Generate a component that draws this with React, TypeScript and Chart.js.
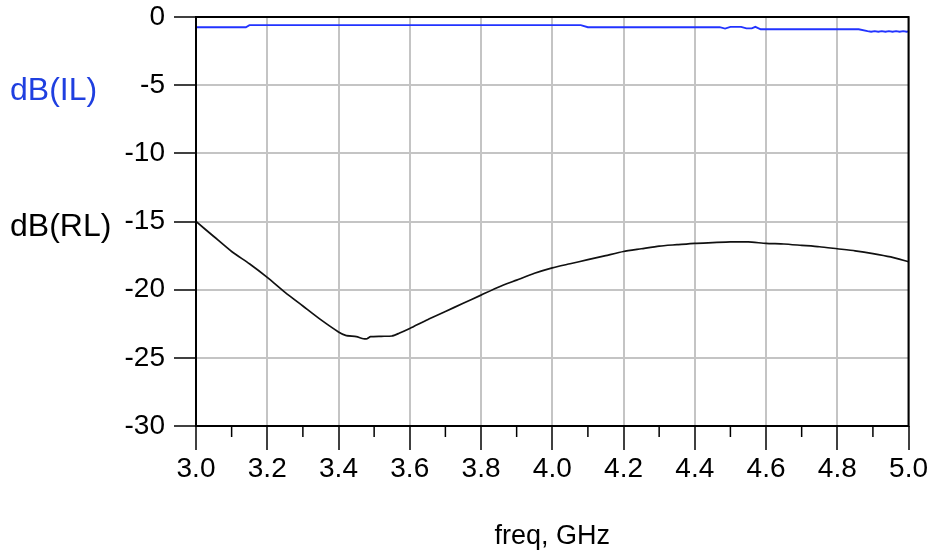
import React, { useEffect, useRef } from "react";
import { Chart, registerables } from "chart.js";

Chart.register(...registerables);

// Return loss dB(RL) vs frequency (GHz)
const rlFreq = [
  3.0, 3.05, 3.1, 3.15, 3.2, 3.25, 3.3, 3.35, 3.4, 3.42, 3.45, 3.47, 3.48, 3.49, 3.52, 3.55, 3.57,
  3.6, 3.65, 3.7, 3.75, 3.8, 3.85, 3.9, 3.95, 4.0, 4.05, 4.1, 4.15, 4.2, 4.25, 4.3,
  4.35, 4.4, 4.45, 4.5, 4.55, 4.6, 4.65, 4.7, 4.75, 4.8, 4.85, 4.9, 4.95, 5.0,
];
const rlValues = [
  -15.0, -16.1, -17.2, -18.1, -19.1, -20.2, -21.2, -22.2, -23.1, -23.35, -23.45, -23.6, -23.6, -23.45, -23.42, -23.4, -23.2,
  -22.85, -22.2, -21.6, -21.0, -20.4, -19.8, -19.3, -18.8, -18.4, -18.1, -17.8, -17.5, -17.2, -17.0, -16.8,
  -16.7, -16.6, -16.55, -16.5, -16.5, -16.6, -16.65, -16.75, -16.85, -17.0, -17.15, -17.35, -17.6, -17.95,
];

// Insertion loss dB(IL) vs frequency (GHz)
const ilFreq = [
  3.0, 3.14, 3.15, 4.08, 4.1, 4.47, 4.485, 4.5, 4.53, 4.545, 4.56, 4.57, 4.585, 4.86, 4.885,
  4.895, 4.905, 4.915, 4.925, 4.935, 4.945, 4.955, 4.965, 4.975, 4.985, 4.995, 5.0,
];
const ilValues = [
  -0.75, -0.75, -0.6, -0.6, -0.75, -0.75, -0.85, -0.72, -0.72, -0.83, -0.83, -0.72, -0.9, -0.9, -1.04,
  -1.08, -1.03, -1.08, -1.03, -1.08, -1.03, -1.08, -1.03, -1.08, -1.03, -1.08, -1.06,
];

const xMin = 3.0;
const xMax = 5.0;
const xStep = 0.2;
const minorXTicks = [3.1, 3.3, 3.5, 3.7, 3.9, 4.1, 4.3, 4.5, 4.7, 4.9];
const yMin = -30;
const yMax = 0;
const yStep = 5;

const xTitle = "freq, GHz";
const ilLabel = "dB(IL)";
const rlLabel = "dB(RL)";

const FONT = "'Liberation Sans', Arial, sans-serif";

const decorPlugin = {
  id: "decor",
  afterDraw(chart: any) {
    const { ctx, chartArea } = chart;
    const xs = chart.scales.x;
    const ys = chart.scales.y;
    ctx.save();
    // box
    ctx.strokeStyle = "#000";
    ctx.lineWidth = 2;
    ctx.strokeRect(chartArea.left, chartArea.top, chartArea.right - chartArea.left, chartArea.bottom - chartArea.top);
    // minor ticks
    ctx.lineWidth = 1.5;
    minorXTicks.forEach((v) => {
      const px = xs.getPixelForValue(v);
      ctx.beginPath();
      ctx.moveTo(px, chartArea.bottom);
      ctx.lineTo(px, chartArea.bottom + 11);
      ctx.stroke();
    });
    // side labels
    ctx.font = `32px ${FONT}`;
    ctx.textBaseline = "middle";
    ctx.textAlign = "left";
    ctx.fillStyle = "#1f3fe0";
    ctx.fillText(ilLabel, 10, ys.getPixelForValue(-5.45));
    ctx.fillStyle = "#000";
    ctx.fillText(rlLabel, 10, ys.getPixelForValue(-15.4));
    ctx.restore();
  },
};

export default function App() {
  const ref = useRef<HTMLCanvasElement | null>(null);
  useEffect(() => {
    if (!ref.current) return;
    const chart = new Chart(ref.current, {
      type: "line",
      data: {
        datasets: [
          {
            label: ilLabel,
            data: ilFreq.map((f, i) => ({ x: f, y: ilValues[i] })),
            borderColor: "#2233ff",
            borderWidth: 1.8,
            pointRadius: 0,
            tension: 0,
          },
          {
            label: rlLabel,
            data: rlFreq.map((f, i) => ({ x: f, y: rlValues[i] })),
            borderColor: "#111",
            borderWidth: 1.7,
            pointRadius: 0,
            tension: 0.2,
          },
        ],
      },
      options: {
        animation: false,
        responsive: false,
        devicePixelRatio: 1,
        layout: { padding: { top: 17, right: 20, left: 0, bottom: 0 } },
        plugins: { legend: { display: false }, tooltip: { enabled: false } },
        scales: {
          x: {
            type: "linear",
            min: xMin,
            max: xMax,
            afterFit: (s: any) => {
              s.height = 128;
            },
            ticks: {
              stepSize: xStep,
              color: "#000",
              font: { family: FONT, size: 28 },
              padding: 2,
              maxRotation: 0,
              callback: (v: any) => Number(v).toFixed(1),
            },
            grid: {
              color: "#c4c4c4",
              lineWidth: 2,
              tickColor: "#000",
              tickLength: 24,
              tickWidth: 1.5,
            },
            border: { display: false },
            title: {
              display: true,
              text: xTitle,
              color: "#000",
              font: { family: FONT, size: 27 },
              padding: { top: 0, bottom: 1 },
            },
          },
          y: {
            type: "linear",
            min: yMin,
            max: yMax,
            afterFit: (s: any) => {
              s.width = 196;
              s.paddingTop = 0;
              s.paddingBottom = 0;
            },
            ticks: {
              stepSize: yStep,
              color: "#000",
              font: { family: FONT, size: 28, lineHeight: 0.8 },
              padding: 9,
              callback: (v: any) => String(v),
            },
            grid: {
              color: "#c4c4c4",
              lineWidth: 2,
              tickColor: "#000",
              tickLength: 22,
              tickWidth: 1.5,
            },
            border: { display: false },
          },
        },
      },
      plugins: [decorPlugin],
    });
    return () => chart.destroy();
  }, []);
  return (
    <div style={{ position: "absolute", left: 0, top: 0, width: 930, height: 554, background: "#fff" }}>
      <canvas ref={ref} width={930} height={554} />
    </div>
  );
}
